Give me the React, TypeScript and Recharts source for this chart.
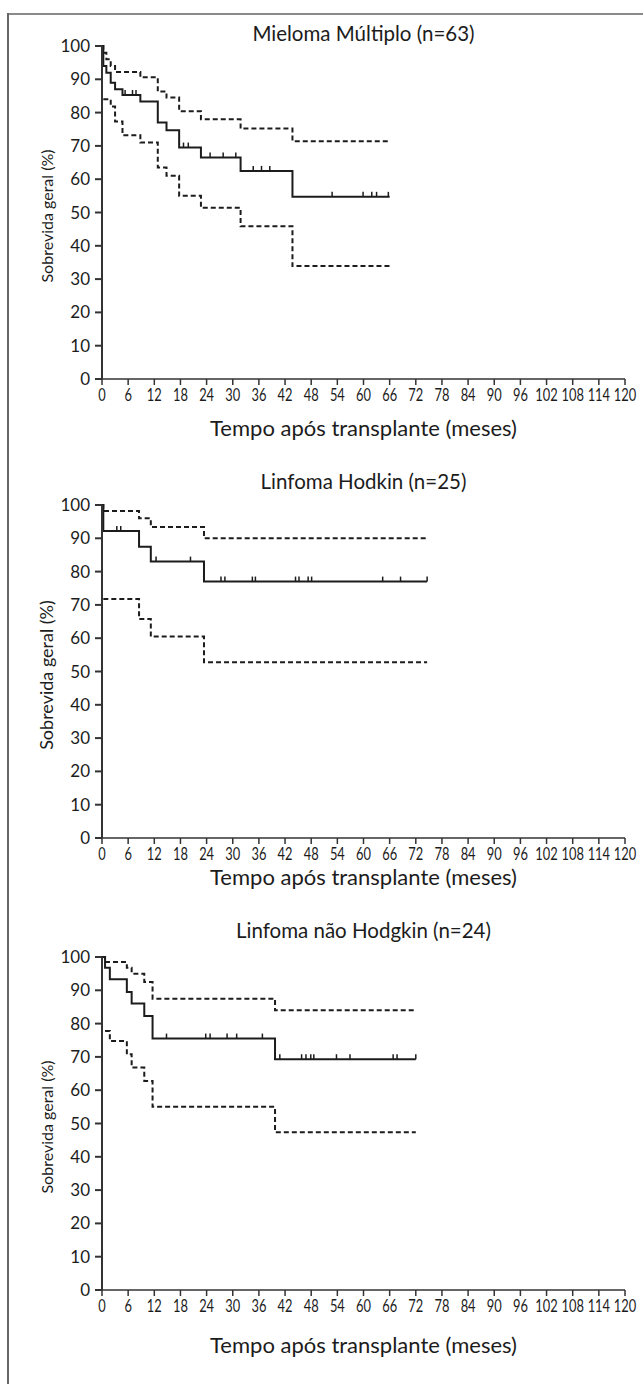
import { ComposedChart, Line, Scatter, XAxis, YAxis } from "recharts";

const X_TICKS = [0, 6, 12, 18, 24, 30, 36, 42, 48, 54, 60, 66, 72, 78, 84, 90, 96, 102, 108, 114, 120];
const Y_TICKS = [0, 10, 20, 30, 40, 50, 60, 70, 80, 90, 100];

// Mieloma Múltiplo
const mmTime = [0, 0.3, 1, 2, 3, 4.7, 8.8, 12.8, 14.8, 17.7, 22.7, 31.8, 43.7, 66];
const mmEst = [100, 94, 92, 89, 87, 85.3, 83.3, 77, 74.7, 69.5, 66.5, 62.5, 54.7, 54.7];
const mmUpper = [100, 98, 96, 94, 92.2, 92.2, 90.6, 86.3, 84.5, 80.4, 78, 75.2, 71.4, 71.4];
const mmLower = [null, 84, 84, 81.8, 77.3, 73.2, 71, 63.5, 61, 55, 51.4, 45.9, 33.9, 33.9];
const mmCensor = [5.3, 7.0, 7.8, 18.7, 19.8, 24.8, 27.8, 30.7, 34.7, 36.6, 38.5, 52.8, 59.9, 61.9, 63, 65.7];

// Linfoma Hodkin
const hlTime = [0, 0.3, 8.5, 11.2, 23.4, 74.6];
const hlEst = [100, 92.2, 87.5, 83, 77, 77];
const hlUpper = [100, 98.2, 96, 93.4, 90, 90];
const hlLower = [null, 71.8, 65.8, 60.5, 52.8, 52.8];
const hlCensor = [3.4, 4.3, 12.4, 20.3, 27.3, 28.2, 34.5, 35.2, 44.4, 45.2, 47.3, 48.1, 64.4, 68.5, 74.6];

// Linfoma não Hodgkin
const nhTime = [0, 0.7, 1.8, 5.7, 6.8, 9.7, 11.6, 39.7, 72];
const nhEst = [100, 96.8, 93.3, 89.5, 86, 82.3, 75.5, 69.3, 69.3];
const nhUpper = [100, 98.5, 98.5, 96.8, 95, 92.5, 87.5, 84, 84];
const nhLower = [null, 77.8, 74.8, 70.8, 66.8, 62.8, 55, 47.4, 47.4];
const nhCensor = [14.8, 23.8, 24.8, 28.7, 30.9, 36.8, 40.8, 45.8, 46.8, 47.9, 48.6, 53.8, 56.9, 66.8, 67.7, 72];

const INK = "#1c1c1c";
const SANS = "Lato, 'Open Sans', sans-serif";

// narrow-looking month labels, like the original typesetting
function MonthTick(p: any) {
  return (
    <g transform={`translate(${p.x},${p.y})`}>
      <text
        textAnchor="middle"
        dy="0.71em"
        transform="scale(0.78,1)"
        fontSize={16.5}
        fontFamily={SANS}
        fill={INK}
      >
        {p.payload.value}
      </text>
    </g>
  );
}

interface PanelProps {
  title: string;
  time: number[];
  est: number[];
  upper: (number | null)[];
  lower: (number | null)[];
  censor: number[];
  top: number;
  titleY: number;
  xTitleY: number;
  yLabelSize: number;
}

function Panel({ title, time, est, upper, lower, censor, top, titleY, xTitleY, yLabelSize }: PanelProps) {
  const rows = time.map((t, i) => ({ t, est: est[i], up: upper[i], lo: lower[i] }));
  const stepAt = (t: number) => {
    let v = est[0];
    for (let i = 0; i < time.length; i++) if (time[i] <= t) v = est[i];
    return v;
  };
  const marks = censor.map((t) => ({ t, est: stepAt(t) }));

  return (
    <>
      <div
        style={{
          position: "absolute",
          left: 102,
          width: 523,
          top: titleY - 13,
          textAlign: "center",
          fontFamily: SANS,
          fontSize: 20.5,
          color: INK,
          lineHeight: "26px",
        }}
      >
        {title}
      </div>
      <div
        style={{
          position: "absolute",
          left: 46,
          top: top + 46 + 170,
          transform: "translate(-50%, -50%) rotate(-90deg)",
          whiteSpace: "nowrap",
          fontFamily: SANS,
          fontSize: yLabelSize,
          color: INK,
        }}
      >
        Sobrevida geral (%)
      </div>
      <div
        style={{
          position: "absolute",
          left: 102,
          width: 523,
          top: xTitleY - 14,
          textAlign: "center",
          fontFamily: SANS,
          fontSize: 22,
          color: INK,
          lineHeight: "28px",
        }}
      >
        Tempo após transplante (meses)
      </div>
      <div style={{ position: "absolute", left: 0, top }}>
        <ComposedChart width={643} height={455} data={rows} margin={{ top: 46, right: 18, bottom: 46, left: 0 }}>
          <XAxis
            type="number"
            dataKey="t"
            domain={[0, 120]}
            ticks={X_TICKS}
            interval={0}
            height={30}
            tickSize={6}
            tickMargin={4}
            stroke="#333"
            strokeWidth={1.5}
            tick={<MonthTick />}
          />
          <YAxis
            type="number"
            domain={[0, 100]}
            ticks={Y_TICKS}
            interval={0}
            width={102}
            tickSize={7}
            tickMargin={5}
            stroke="#333"
            strokeWidth={2}
            tick={{ fontSize: 17, fill: INK, fontFamily: SANS }}
          />
          <Line
            type="stepAfter"
            dataKey="up"
            stroke={INK}
            strokeWidth={2}
            strokeDasharray="5 3"
            dot={false}
            activeDot={false}
            connectNulls
            isAnimationActive={false}
          />
          <Line
            type="stepAfter"
            dataKey="lo"
            stroke={INK}
            strokeWidth={2}
            strokeDasharray="5 3"
            dot={false}
            activeDot={false}
            connectNulls
            isAnimationActive={false}
          />
          <Line
            type="stepAfter"
            dataKey="est"
            stroke={INK}
            strokeWidth={2}
            dot={false}
            activeDot={false}
            isAnimationActive={false}
          />
          <Scatter
            data={marks}
            dataKey="est"
            isAnimationActive={false}
            shape={(p: any) => (
              <line x1={p.cx} x2={p.cx} y1={p.cy} y2={p.cy - 5} stroke={INK} strokeWidth={1.5} />
            )}
          />
        </ComposedChart>
      </div>
    </>
  );
}

export default function App() {
  return (
    <div
      style={{
        position: "absolute",
        left: 0,
        top: 0,
        width: 643,
        height: 1384,
        background: "#fff",
        overflow: "hidden",
      }}
    >
      <div style={{ position: "absolute", left: 7, top: 13, width: 636, height: 2, background: "#8a8a8a" }} />
      <div style={{ position: "absolute", left: 7, top: 13, width: 1.5, height: 1371, background: "#666" }} />
      <Panel
        title="Mieloma Múltiplo (n=63)"
        time={mmTime}
        est={mmEst}
        upper={mmUpper}
        lower={mmLower}
        censor={mmCensor}
        top={0}
        titleY={33}
        xTitleY={428}
        yLabelSize={16}
      />
      <Panel
        title="Linfoma Hodkin (n=25)"
        time={hlTime}
        est={hlEst}
        upper={hlUpper}
        lower={hlLower}
        censor={hlCensor}
        top={459}
        titleY={481}
        xTitleY={877}
        yLabelSize={18}
      />
      <Panel
        title="Linfoma não Hodgkin (n=24)"
        time={nhTime}
        est={nhEst}
        upper={nhUpper}
        lower={nhLower}
        censor={nhCensor}
        top={911}
        titleY={930}
        xTitleY={1345}
        yLabelSize={16}
      />
    </div>
  );
}
